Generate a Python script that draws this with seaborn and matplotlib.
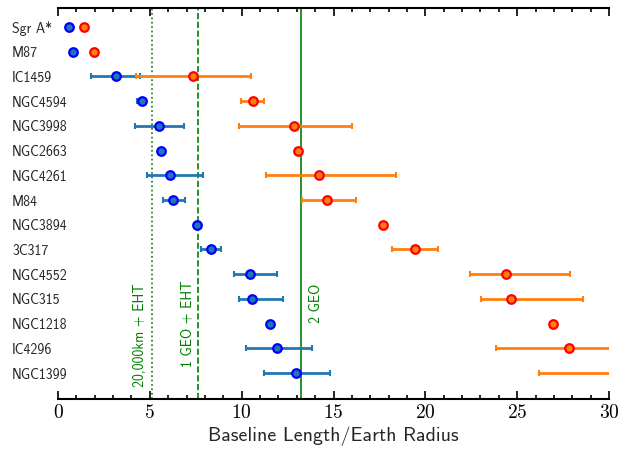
import numpy as np
import pandas as pd
import matplotlib
matplotlib.use("Agg")
import matplotlib.pyplot as plt
from matplotlib.ticker import FixedLocator, MultipleLocator, FuncFormatter
import seaborn as sns

# ---------------- data ----------------
sources = ["Sgr A*", "M87", "IC1459", "NGC4594", "NGC3998", "NGC2663", "NGC4261",
           "M84", "NGC3894", "3C317", "NGC4552", "NGC315", "NGC1218", "IC4296", "NGC1399"]
blue_val = [0.58, 0.83, 3.14, 4.55, 5.50, 5.59, 6.08, 6.26, 7.57, 8.33, 10.43, 10.58, 11.54, 11.90, 12.97]
blue_lo = [0.58, 0.83, 1.81, 4.28, 4.21, 5.59, 4.84, 5.70, 7.57, 7.77, 9.60, 9.85, 11.54, 10.22, 11.21]
blue_hi = [0.58, 0.83, 4.46, 4.79, 6.86, 5.59, 7.88, 6.93, 7.57, 8.87, 11.94, 12.25, 11.54, 13.81, 14.81]
red_val = [1.40, 1.98, 7.37, 10.60, 12.85, 13.05, 14.23, 14.66, 17.67, 19.43, 24.40, 24.66, 26.93, 27.80, 30.40]
red_lo = [1.40, 1.98, 4.23, 9.94, 9.84, 13.05, 11.32, 13.27, 17.67, 18.16, 22.41, 23.01, 26.93, 23.86, 26.17]
red_hi = [1.40, 1.98, 10.49, 11.23, 16.02, 13.05, 18.42, 16.22, 17.67, 20.70, 27.89, 28.60, 26.93, 32.30, 34.70]

vlines_x = [5.14, 7.62, 13.24]
vline_styles = [":", "--", "-"]
vline_labels = ["20,000km + EHT", "1 GEO + EHT", "2 GEO"]
xticks_major = [0, 5, 10, 15, 20, 25, 30]
xlabel = "Baseline Length/Earth Radius"

# ---------------- style ----------------
sns.set_style("ticks")
plt.rcParams["font.family"] = ["cmss10", "DejaVu Sans"]
plt.rcParams["mathtext.fontset"] = "cm"
plt.rcParams["axes.unicode_minus"] = False

fig, ax = plt.subplots(figsize=(6.3, 4.53), dpi=100)
fig.subplots_adjust(left=58/630, right=609/630, top=1-8/453, bottom=1-399/453)

ypos = np.arange(len(sources))
bv = np.array(blue_val); rv = np.array(red_val)
bl = bv - np.array(blue_lo); bh = np.array(blue_hi) - bv
rl = rv - np.array(red_lo); rh = np.array(red_hi) - rv

# vertical reference lines
for x, ls in zip(vlines_x, vline_styles):
    ax.axvline(x, color="green", ls=ls, lw=1.2, zorder=1)

# error bars
ax.errorbar(bv, ypos, xerr=[bl, bh], fmt="none", ecolor="C0", elinewidth=2,
            capsize=2.5, capthick=1.5, zorder=2)
ax.errorbar(rv, ypos, xerr=[rl, rh], fmt="none", ecolor="C1", elinewidth=2,
            capsize=2.5, capthick=1.5, zorder=2)

df_b = pd.DataFrame({"x": bv, "y": ypos})
df_r = pd.DataFrame({"x": rv, "y": ypos})
sns.scatterplot(data=df_b, x="x", y="y", ax=ax, color="C0", edgecolor="blue",
                linewidth=1.6, s=38, zorder=3, legend=False)
sns.scatterplot(data=df_r, x="x", y="y", ax=ax, color="C1", edgecolor="red",
                linewidth=1.6, s=38, zorder=3, legend=False)

# text labels for reference lines
ax.text(4.49, 14.57, vline_labels[0], rotation=90, color="green", fontsize=10,
        ha="center", va="bottom")
ax.text(7.08, 13.77, vline_labels[1], rotation=90, color="green", fontsize=10,
        ha="center", va="bottom")
ax.text(14.06, 11.99, vline_labels[2], rotation=90, color="green", fontsize=10,
        ha="center", va="bottom")

ax.set_xlim(0, 30)
ax.set_ylim(15.05, -0.77)
ax.set_yticks(ypos)
ax.set_yticklabels(sources, fontsize=10, ha="left")
ax.tick_params(axis="y", length=0, pad=46 * 72 / 100)

ax.xaxis.set_major_locator(FixedLocator(xticks_major))
ax.xaxis.set_minor_locator(MultipleLocator(1))
ax.xaxis.set_major_formatter(FuncFormatter(lambda v, p: f"${int(v)}$"))
ax.tick_params(axis="x", which="both", direction="in", top=True, bottom=True,
               labelsize=14, width=1.2, colors="black")
ax.tick_params(axis="x", which="major", length=6)
ax.tick_params(axis="x", which="minor", length=3)

ax.set_xlabel(xlabel, fontsize=14.4, labelpad=3)
ax.set_ylabel("")
for side in ["left", "right"]:
    ax.spines[side].set_visible(False)
for side in ["top", "bottom"]:
    ax.spines[side].set_linewidth(1.5)
    ax.spines[side].set_color("black")

fig.savefig("out.png", dpi=100)
